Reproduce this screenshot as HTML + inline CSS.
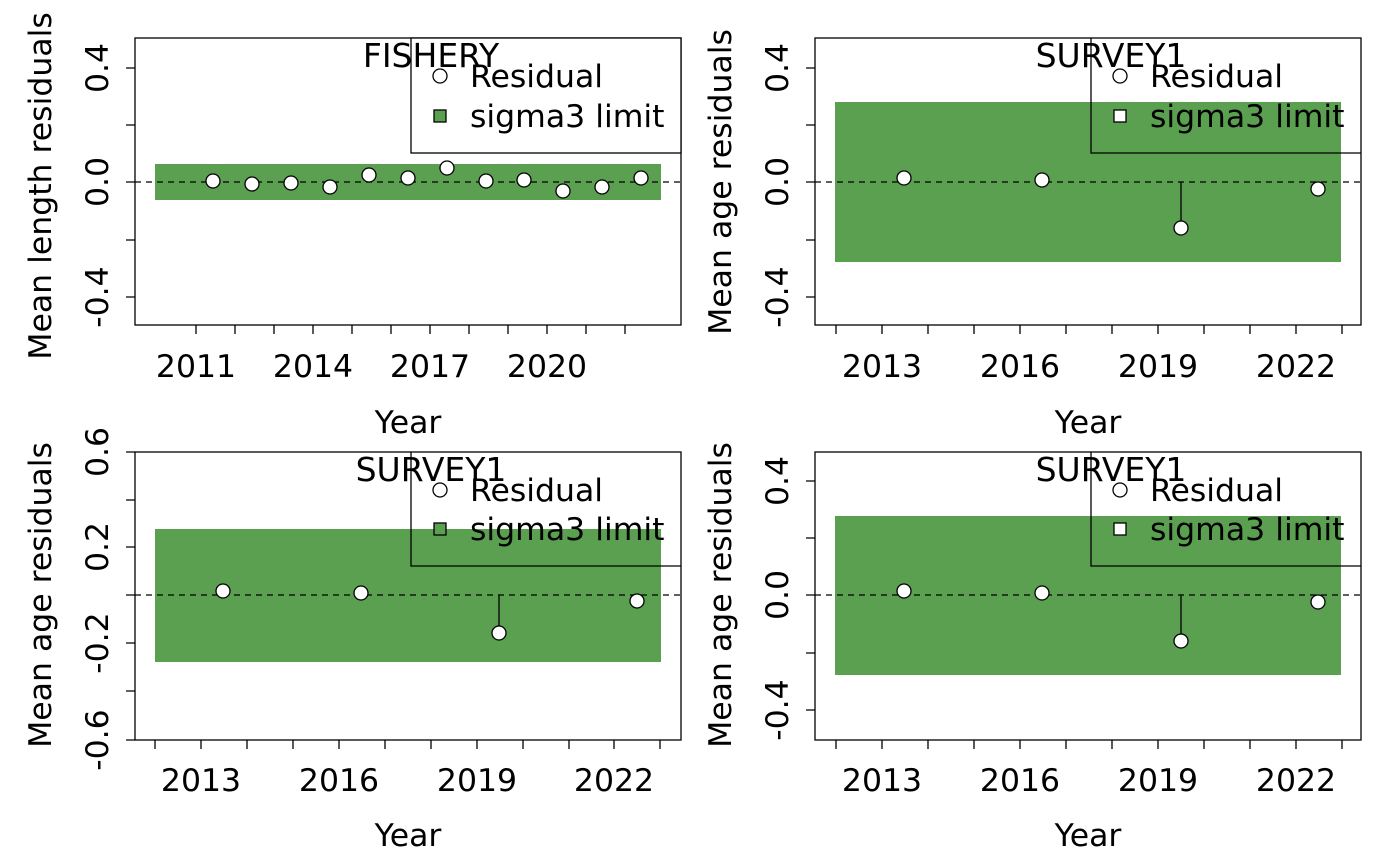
<!DOCTYPE html>
<html><head><style>body{margin:0;background:#fff}svg{display:block}text{font-family:"DejaVu Sans","Liberation Sans",sans-serif;font-size:31.5px;fill:#000}.t{font-size:33px}</style></head><body>
<svg width="1400" height="865" xmlns="http://www.w3.org/2000/svg">
<g stroke="#000" stroke-width="1.3" fill="none">
<rect x="155" y="164" width="506" height="36" fill="#5aa050" stroke="none"/>
<line x1="135" y1="182" x2="681" y2="182" stroke-dasharray="6,5"/>
<rect x="135" y="38" width="546" height="287"/>
<rect x="411" y="38" width="270" height="115" fill="#fff"/>
<rect x="835" y="102" width="506" height="160" fill="#5aa050" stroke="none"/>
<line x1="815" y1="182" x2="1361" y2="182" stroke-dasharray="6,5"/>
<line x1="1181" y1="182" x2="1181" y2="228"/>
<rect x="815" y="38" width="546" height="287"/>
<path d="M1091 38V153H1361"/>
<rect x="155" y="529" width="506" height="133" fill="#5aa050" stroke="none"/>
<line x1="135" y1="595" x2="681" y2="595" stroke-dasharray="6,5"/>
<line x1="499" y1="595" x2="499" y2="633"/>
<rect x="135" y="452" width="546" height="288"/>
<path d="M411 452V566H681"/>
<rect x="835" y="516" width="506" height="159" fill="#5aa050" stroke="none"/>
<line x1="815" y1="595" x2="1361" y2="595" stroke-dasharray="6,5"/>
<line x1="1181" y1="595" x2="1181" y2="641"/>
<rect x="815" y="452" width="546" height="288"/>
<path d="M1091 452V566H1361"/>
<path d="M135 68h-9M135 125h-9M135 182h-9M135 240h-9M135 297h-9"/>
<path d="M815 68h-9M815 125h-9M815 182h-9M815 240h-9M815 297h-9"/>
<path d="M135 452h-9M135 500h-9M135 547h-9M135 595h-9M135 643h-9M135 691h-9M135 740h-9"/>
<path d="M815 481h-9M815 538h-9M815 595h-9M815 653h-9M815 710h-9"/>
<path d="M196 325v9M235 325v9M274 325v9M313 325v9M352 325v9M391 325v9M430 325v9M469 325v9M508 325v9M547 325v9M586 325v9M625 325v9"/>
<path d="M836 325v9M882 325v9M928 325v9M974 325v9M1020 325v9M1066 325v9M1112 325v9M1158 325v9M1204 325v9M1250 325v9M1296 325v9M1342 325v9"/>
<path d="M155 740v9M201 740v9M247 740v9M293 740v9M339 740v9M385 740v9M431 740v9M477 740v9M523 740v9M569 740v9M614 740v9M660 740v9"/>
<path d="M836 740v9M882 740v9M928 740v9M974 740v9M1020 740v9M1066 740v9M1112 740v9M1158 740v9M1204 740v9M1250 740v9M1296 740v9M1342 740v9"/>
</g>
<g fill="#fff" stroke="#000" stroke-width="1.3">
<circle cx="213" cy="181" r="7"/><circle cx="252" cy="184" r="7"/><circle cx="291" cy="183" r="7"/><circle cx="330" cy="187" r="7"/><circle cx="369" cy="175" r="7"/><circle cx="408" cy="178" r="7"/><circle cx="447" cy="168" r="7"/><circle cx="486" cy="181" r="7"/><circle cx="524" cy="180" r="7"/><circle cx="563" cy="191" r="7"/><circle cx="602" cy="187" r="7"/><circle cx="641" cy="178" r="7"/>
<circle cx="904" cy="178" r="7"/><circle cx="1042" cy="180" r="7"/><circle cx="1181" cy="228" r="7"/><circle cx="1318" cy="189" r="7"/>
<circle cx="223" cy="591" r="7"/><circle cx="361" cy="593" r="7"/><circle cx="499" cy="633" r="7"/><circle cx="637" cy="601" r="7"/>
<circle cx="904" cy="591" r="7"/><circle cx="1042" cy="593" r="7"/><circle cx="1181" cy="641" r="7"/><circle cx="1318" cy="602" r="7"/>
<circle cx="440" cy="76" r="7"/><circle cx="1120" cy="76" r="7"/><circle cx="440" cy="490" r="7"/><circle cx="1120" cy="490" r="7"/>
<rect x="434" y="110" width="12" height="12" fill="#5aa050"/><rect x="1114" y="110" width="12" height="12"/>
<rect x="434" y="523" width="12" height="12" fill="#5aa050"/><rect x="1114" y="523" width="12" height="12"/>
</g>
<g>
<text class="t" x="431" y="67" text-anchor="middle">FISHERY</text><text class="t" x="1111" y="67" text-anchor="middle">SURVEY1</text>
<text class="t" x="431" y="481" text-anchor="middle">SURVEY1</text><text class="t" x="1111" y="481" text-anchor="middle">SURVEY1</text>
<text x="470" y="87">Residual</text><text x="470" y="127">sigma3 limit</text>
<text x="1150" y="87">Residual</text><text x="1150" y="127">sigma3 limit</text>
<text x="470" y="501">Residual</text><text x="470" y="540">sigma3 limit</text>
<text x="1150" y="501">Residual</text><text x="1150" y="540">sigma3 limit</text>
<g text-anchor="middle">
<text x="196" y="377">2011</text><text x="313" y="377">2014</text><text x="430" y="377">2017</text><text x="547" y="377">2020</text>
<text x="882" y="377">2013</text><text x="1020" y="377">2016</text><text x="1158" y="377">2019</text><text x="1296" y="377">2022</text>
<text x="201" y="791">2013</text><text x="339" y="791">2016</text><text x="477" y="791">2019</text><text x="614" y="791">2022</text>
<text x="882" y="791">2013</text><text x="1020" y="791">2016</text><text x="1158" y="791">2019</text><text x="1296" y="791">2022</text>
<text x="408" y="433">Year</text><text x="1088" y="433">Year</text><text x="408" y="846">Year</text><text x="1088" y="846">Year</text>
<text transform="translate(108,68) rotate(-90)">0.4</text><text transform="translate(108,182) rotate(-90)">0.0</text><text transform="translate(108,297) rotate(-90)">-0.4</text>
<text transform="translate(788,68) rotate(-90)">0.4</text><text transform="translate(788,182) rotate(-90)">0.0</text><text transform="translate(788,297) rotate(-90)">-0.4</text>
<text transform="translate(108,452) rotate(-90)">0.6</text><text transform="translate(108,547) rotate(-90)">0.2</text><text transform="translate(108,643) rotate(-90)">-0.2</text><text transform="translate(108,740) rotate(-90)">-0.6</text>
<text transform="translate(788,481) rotate(-90)">0.4</text><text transform="translate(788,595) rotate(-90)">0.0</text><text transform="translate(788,710) rotate(-90)">-0.4</text>
<text transform="translate(51,186) rotate(-90)">Mean length residuals</text>
<text transform="translate(731,182) rotate(-90)">Mean age residuals</text>
<text transform="translate(51,595) rotate(-90)">Mean age residuals</text>
<text transform="translate(731,595) rotate(-90)">Mean age residuals</text>
</g></g>
</svg>
</body></html>
